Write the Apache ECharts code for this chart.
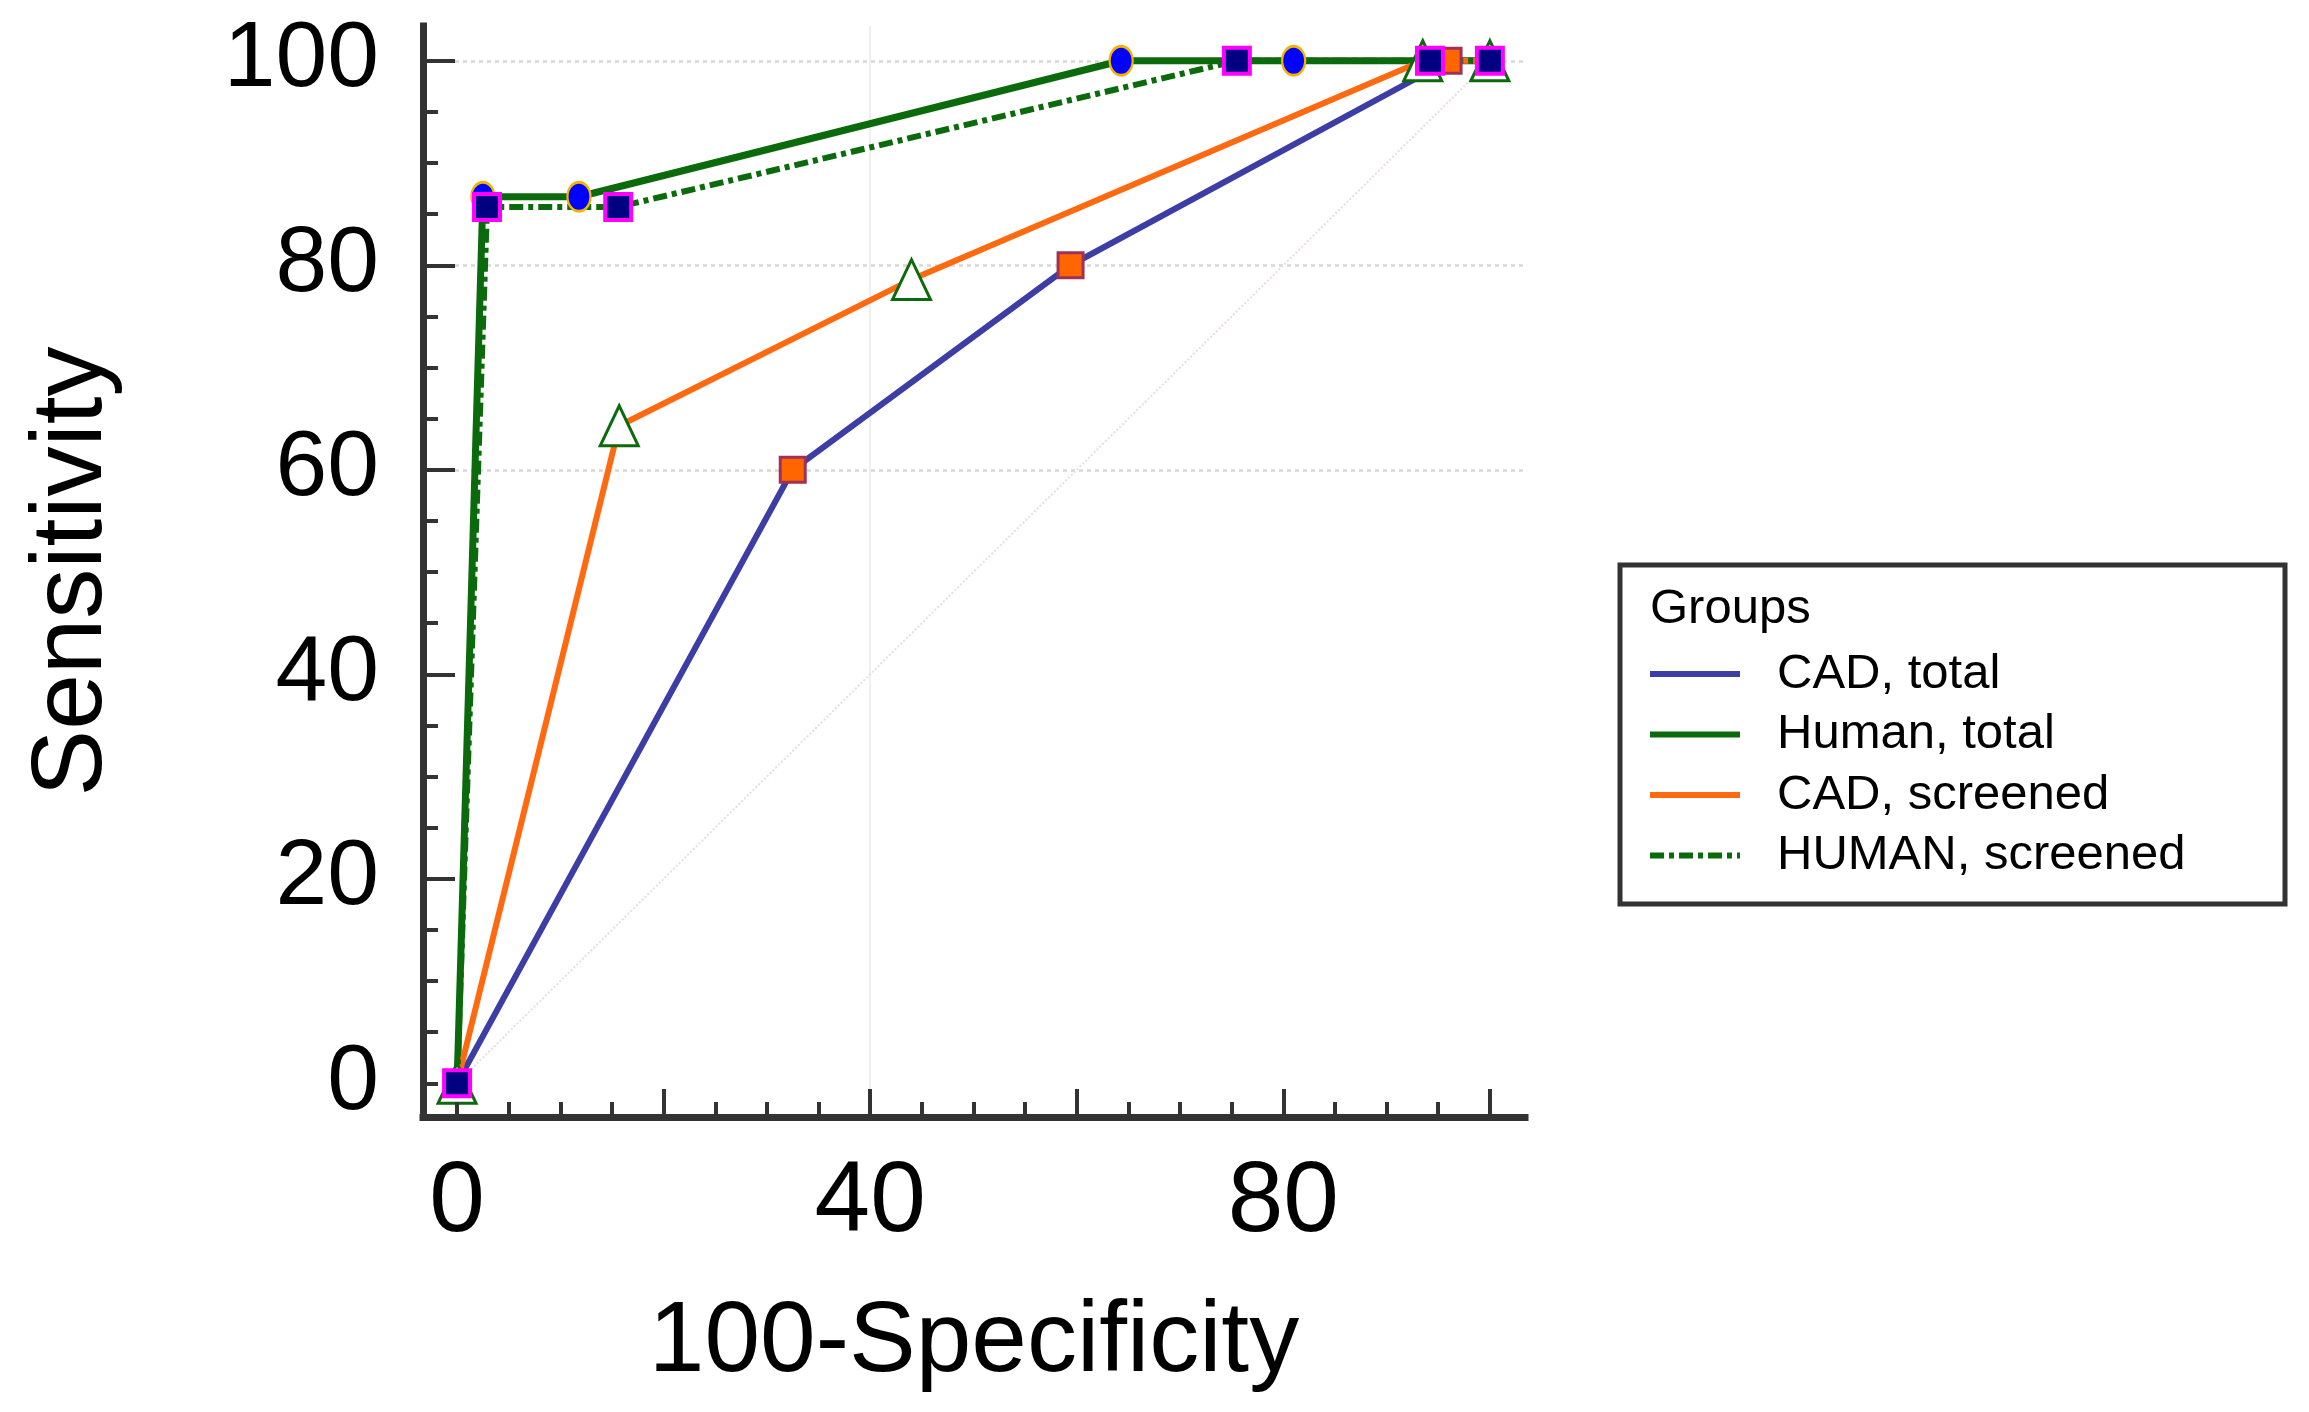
<!DOCTYPE html>
<html><head><meta charset="utf-8">
<script src="https://cdn.jsdelivr.net/npm/echarts@6/dist/echarts.min.js"></script>
<style>html,body{margin:0;padding:0;background:#fff}#c{width:2309px;height:1412px}</style>
</head><body><div id="c"></div>
<script>
const seriesNames = ['CAD, total', 'Human, total', 'CAD, screened', 'HUMAN, screened'];
const cadTotal = [[0, 0], [32.5, 60], [59.4, 80], [96, 100], [100, 100]];
const humanTotal = [[0, 0], [2.5, 86.7], [11.8, 86.7], [64.3, 100], [81, 100], [100, 100]];
const cadScreened = [[0, 0], [15.7, 64.3], [44, 78.6], [93.5, 100], [100, 100]];
const humanScreened = [[0, 0], [2.9, 85.7], [15.6, 85.7], [75.5, 100], [94.2, 100], [100, 100]];
const diagonal = [[0, 0], [100, 100]];
const majorTicks = [20, 40, 60, 80, 100];
const minorTicks = [0, 5, 10, 15, 25, 30, 35, 45, 50, 55, 65, 70, 75, 85, 90, 95];
const xLabels = [0, 40, 80];
const yLabels = [0, 20, 40, 60, 80, 100];
const gridY = [60, 80, 100];
const gridX = [40];

const FONT = '"Liberation Sans", Arial, sans-serif';
const AMIN = -3.3, AMAX = 103.4;
const G = {left: 423, top: 26, width: 1102, height: 1091};
const axisColor = '#333333';

const chart = echarts.init(document.getElementById('c'), null, {renderer: 'canvas'});

function mainAxis(isX) {
  return {
    type: 'value', min: AMIN, max: AMAX, z: 6,
    position: isX ? 'bottom' : 'left',
    axisLine: {show: true, onZero: false, lineStyle: {color: axisColor, width: 7, cap: 'square'}},
    axisTick: {show: true, inside: true, length: isX ? 28 : 32, customValues: majorTicks,
      lineStyle: {color: axisColor, width: 4}},
    axisLabel: {show: true, customValues: isX ? xLabels : yLabels, margin: isX ? 36 : 44,
      fontSize: isX ? 100 : 93, color: '#000', fontFamily: FONT},
    splitLine: {show: false},
    name: isX ? '100-Specificity' : 'Sensitivity',
    nameLocation: 'middle',
    nameGap: isX ? 176 : 300,
    nameTextStyle: {fontSize: 100, color: '#000', fontFamily: FONT}
  };
}
function minorAxis(isX) {
  return {
    type: 'value', min: AMIN, max: AMAX, z: 6,
    position: isX ? 'top' : 'right',
    offset: isX ? -G.height : -G.width,
    axisLine: {show: false, onZero: false},
    axisTick: {show: true, inside: false, length: 15, customValues: minorTicks,
      lineStyle: {color: axisColor, width: 4}},
    axisLabel: {show: false},
    splitLine: {show: false}
  };
}

function lineSeries(name, data, lineColor, width, type, symbol, size, fill, border, bw) {
  return {
    name: name, type: 'line', data: data,
    xAxisIndex: 0, yAxisIndex: 0, z: 3,
    showSymbol: true, symbol: symbol, symbolSize: size,
    lineStyle: {color: lineColor, width: width, type: type},
    itemStyle: {color: fill, borderColor: border, borderWidth: bw},
    emphasis: {disabled: true},
    silent: true
  };
}

const option = {
  animation: false,
  backgroundColor: '#ffffff',
  grid: Object.assign({outerBoundsMode: 'none', containLabel: false}, G),
  xAxis: [mainAxis(true), minorAxis(true)],
  yAxis: [mainAxis(false), minorAxis(false)],
  legend: {
    orient: 'vertical', left: 1642, top: 641,
    itemWidth: 90, itemHeight: 14, itemGap: 4.5,
    selectedMode: false,
    itemStyle: {opacity: 0},
    lineStyle: {width: 6},
    textStyle: {fontSize: 49, lineHeight: 56, color: '#000', fontFamily: FONT, padding: [0, 0, 0, 32]},
    data: seriesNames
  },
  graphic: [
    {type: 'rect', z: 0, shape: {x: 1620, y: 565, width: 665, height: 339},
      style: {fill: '#fff', stroke: '#333', lineWidth: 5}},
    {type: 'text', z: 1, x: 1650, y: 609,
      style: {text: 'Groups', fontSize: 49, fontFamily: FONT, fill: '#000', verticalAlign: 'middle', align: 'left'}}
  ],
  series: [
    {
      name: 'reference', type: 'line', data: diagonal, symbol: 'none', z: 1, silent: true,
      lineStyle: {color: '#eadce0', width: 2, type: 'dotted'},
      markLine: {
        z: 1, silent: true, symbol: 'none', label: {show: false},
        lineStyle: {color: '#d8d8d8', width: 2.5, type: [4, 4]},
        data: gridY.map(v => ({yAxis: v})).concat(
          gridX.map(v => ({xAxis: v, lineStyle: {color: '#efefef', width: 2, type: 'solid'}})))
      }
    },
    lineSeries(seriesNames[0], cadTotal, '#3d3da6', 6, 'solid', 'rect', 25, '#ff6600', '#a0305a', 3),
    lineSeries(seriesNames[1], humanTotal, '#0b6a0b', 7, 'solid', 'circle', [23, 29], '#0000ff', '#f2b400', 2.5),
    lineSeries(seriesNames[2], cadScreened, '#ff6a10', 6, 'solid', 'triangle', [38, 40], '#ffffff', '#0b6a0b', 3),
    lineSeries(seriesNames[3], humanScreened, '#0b6a0b', 6, [14, 5, 5, 5], 'rect', 26, '#000080', '#ff00ff', 4)
  ]
};
chart.setOption(option);
</script>
</body></html>
